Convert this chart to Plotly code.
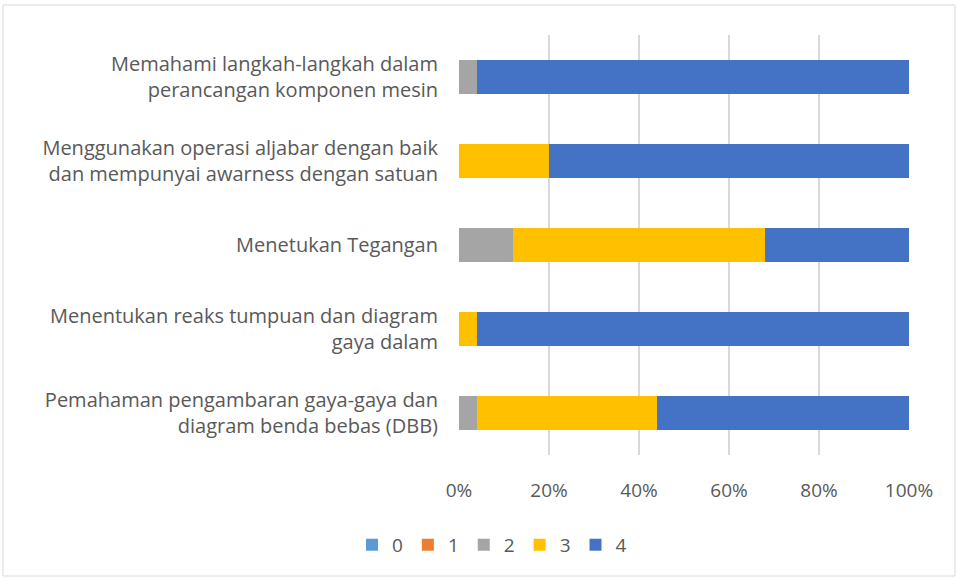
import plotly.graph_objects as go

categories = [
    "Pemahaman pengambaran gaya-gaya dan<br>diagram benda bebas (DBB)",
    "Menentukan reaks tumpuan dan diagram<br>gaya dalam",
    "Menetukan Tegangan",
    "Menggunakan operasi aljabar dengan baik<br>dan mempunyai awarness dengan satuan",
    "Memahami langkah-langkah dalam<br>perancangan komponen mesin",
]
series_names = ["0", "1", "2", "3", "4"]
s0 = [0, 0, 0, 0, 0]
s1 = [0, 0, 0, 0, 0]
s2 = [4, 0, 12, 0, 4]
s3 = [40, 4, 56, 20, 0]
s4 = [56, 96, 32, 80, 96]
colors = ["#5B9BD5", "#ED7D31", "#A5A5A5", "#FFC000", "#4472C4"]
tick_vals = [0, 20, 40, 60, 80, 100]
tick_text = ["0%", "20%", "40%", "60%", "80%", "100%"]

fig = go.Figure()
for name, vals, c in zip(series_names, [s0, s1, s2, s3, s4], colors):
    fig.add_trace(go.Bar(y=categories, x=vals, name=name, orientation="h",
                         marker=dict(color=c, line=dict(width=0))))

W, H = 957, 578
L, R, T, B = 459, 909, 35, 455
fig.update_layout(
    width=W, height=H, barmode="stack", bargap=0.6,
    margin=dict(l=L, r=W - R, t=T, b=H - B, autoexpand=False),
    paper_bgcolor="white", plot_bgcolor="white",
    font=dict(family="Open Sans", size=20, color="#595959"),
    legend=dict(orientation="h", x=(492 - L) / (R - L), xanchor="center",
                y=-0.214, yanchor="middle",
                font=dict(size=19, color="#595959"), traceorder="normal",
                itemwidth=30, itemsizing="constant"),
    xaxis=dict(range=[0, 100], tickvals=tick_vals, ticktext=tick_text,
               showgrid=True, gridcolor="#D9D9D9", gridwidth=1.5, zeroline=False,
               showline=False, ticks="", ticklabelstandoff=22,
               tickfont=dict(size=19, color="#595959")),
    yaxis=dict(showgrid=False, showline=False, ticks="", ticklabelstandoff=20,
               tickfont=dict(size=20, color="#595959")),
    shapes=[dict(type="rect", xref="paper", yref="paper",
                 x0=(3 - L) / (R - L), x1=(955 - L) / (R - L),
                 y0=-(576 - B) / (B - T), y1=1 + (T - 5) / (B - T),
                 line=dict(color="#D9D9D9", width=1))],
)
fig.write_html("out.html", config={"displayModeBar": False},
               post_script="document.body.style.margin='0px';")
